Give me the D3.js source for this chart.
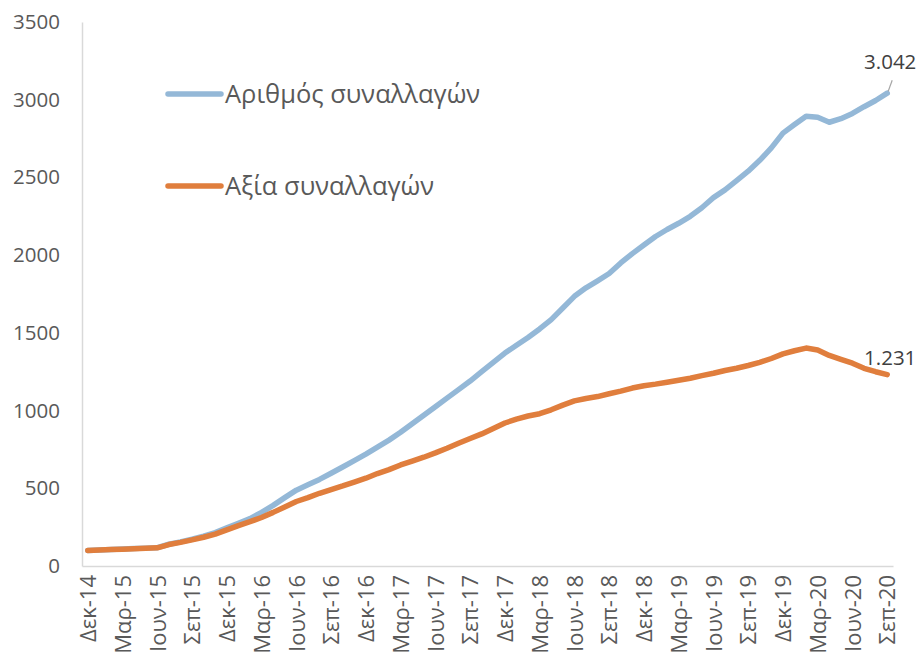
<!DOCTYPE html>
<html>
<head>
<meta charset="utf-8">
<script src="https://cdn.jsdelivr.net/npm/d3@7"></script>
<style>
  body { margin: 0; background: #fff; }
  text { font-family: "Open Sans", sans-serif; }
</style>
</head>
<body>
<script>
const w = 923;
const h = 655;

const monthNames = ["Ιαν", "Φεβ", "Μαρ", "Απρ", "Μαϊ", "Ιουν", "Ιουλ", "Αυγ", "Σεπ", "Οκτ", "Νοε", "Δεκ"];
const seriesNames = ["Αριθμός συναλλαγών", "Αξία συναλλαγών"];
const yTicks = [0, 500, 1000, 1500, 2000, 2500, 3000, 3500];

// Δεκ-14 ... Σεπ-20, monthly
const countValues = [
  100, 103, 106, 109, 112, 115, 118,
  140, 155, 172, 192, 215, 245,
  275, 305, 345, 390, 440, 488, 522, 557, 597, 637, 678, 720,
  765, 810, 860, 915, 970, 1025, 1080, 1135, 1190, 1250, 1310, 1370,
  1420, 1470, 1525, 1585, 1660, 1735, 1790, 1835, 1882, 1950, 2010, 2065,
  2120, 2165, 2205, 2250, 2305, 2370, 2420, 2480, 2540, 2610, 2690, 2785,
  2840, 2893, 2887, 2855, 2878, 2912, 2955, 2995, 3042
];
const valueValues = [
  100, 103, 106, 108, 111, 114, 117,
  138, 152, 168, 185, 205, 232,
  260, 285, 312, 345, 380, 415, 440, 468, 492, 515, 540, 565,
  595, 620, 650, 675, 700, 728, 758, 790, 820, 850, 885, 920,
  945, 965, 980, 1005, 1035, 1062, 1078, 1090, 1108, 1125, 1145, 1160,
  1170, 1182, 1195, 1208, 1225, 1240, 1258, 1272, 1290, 1310, 1335, 1365,
  1385, 1402, 1390, 1355, 1330, 1305, 1272, 1250, 1231
];
const endLabels = ["3.042", "1.231"];

const categories = [];
for (let i = 0; i < countValues.length; i++) {
    const m = (11 + i) % 12;
    const yr = 14 + Math.floor((11 + i) / 12);
    categories.push(monthNames[m] + "-" + yr);
}

const colors = ["#94b8d7", "#e07e3d"];
const plotLeft = 82, plotRight = 893, plotTop = 22, plotBottom = 566;

const svg = d3.select("body")
    .append("svg")
    .attr("width", w)
    .attr("height", h)
    ;

const xScale = d3.scalePoint()
    .domain(categories)
    .range([plotLeft, plotRight])
    .padding(0.5)
    ;

const yScale = d3.scaleLinear()
    .domain([0, 3500])
    .range([plotBottom, plotTop])
    ;

// y axis
const yAxis = d3.axisLeft(yScale)
    .tickValues(yTicks)
    .tickFormat(d3.format("d"))
    .tickSize(0)
    .tickPadding(22);
const gy = svg.append("g")
    .attr("transform", "translate(" + plotLeft + ",0)")
    .call(yAxis)
    ;
gy.select(".domain").attr("stroke", "#d9d9d9").attr("stroke-width", 1.5);
gy.selectAll("text")
    .attr("fill", "#595959")
    .style("font-size", "20.5px")
    ;

// x axis
const xAxis = d3.axisBottom(xScale)
    .tickValues(categories.filter((d, i) => i % 3 === 0))
    .tickSize(0)
    ;
const gx = svg.append("g")
    .attr("transform", "translate(0," + plotBottom + ")")
    .call(xAxis)
    ;
gx.select(".domain").attr("stroke", "#d9d9d9").attr("stroke-width", 1.5);
gx.selectAll("text")
    .attr("fill", "#595959")
    .style("font-size", "22px")
    .attr("text-anchor", "end")
    .attr("dy", "0.35em")
    .attr("transform", "translate(0,9) rotate(-90)")
    .attr("x", 0)
    .attr("y", 0)
    ;

// lines
const line = d3.line()
    .x((d, i) => xScale(categories[i]))
    .y(d => yScale(d))
    ;

[countValues, valueValues].forEach((vals, k) => {
    svg.append("path")
        .datum(vals)
        .attr("d", line)
        .attr("fill", "none")
        .attr("stroke", colors[k])
        .attr("stroke-width", 5.5)
        .attr("stroke-linejoin", "round")
        .attr("stroke-linecap", "round")
        ;
});

// end labels
const lastCat = categories[categories.length - 1];
const lx = xScale(lastCat);
svg.append("line")
    .attr("x1", lx + 1).attr("y1", yScale(countValues[countValues.length - 1]) - 2)
    .attr("x2", lx + 5).attr("y2", yScale(countValues[countValues.length - 1]) - 13)
    .attr("stroke", "#a6a6a6")
    .attr("stroke-width", 1.2)
    ;
svg.append("text")
    .attr("x", lx + 3)
    .attr("y", yScale(countValues[countValues.length - 1]) - 24)
    .attr("text-anchor", "middle")
    .attr("fill", "#404040")
    .style("font-size", "20.5px")
    .text(endLabels[0])
    ;
svg.append("text")
    .attr("x", lx + 3)
    .attr("y", yScale(valueValues[valueValues.length - 1]) - 10)
    .attr("text-anchor", "middle")
    .attr("fill", "#404040")
    .style("font-size", "20.5px")
    .text(endLabels[1])
    ;

// legend
const legendY = [94, 186];
seriesNames.forEach((name, k) => {
    svg.append("line")
        .attr("x1", 168).attr("x2", 221)
        .attr("y1", legendY[k]).attr("y2", legendY[k])
        .attr("stroke", colors[k])
        .attr("stroke-width", 5.5)
        .attr("stroke-linecap", "round")
        ;
    svg.append("text")
        .attr("x", 225)
        .attr("y", legendY[k] + 9)
        .attr("fill", "#595959")
        .style("font-size", "25.5px")
        .text(name)
        ;
});
</script>
</body>
</html>
